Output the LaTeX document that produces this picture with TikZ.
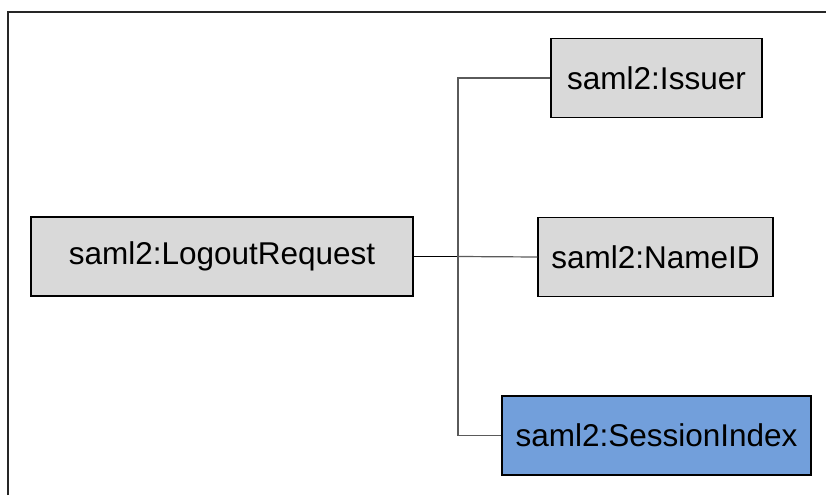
\documentclass[tikz,border=0pt]{standalone}
\usepackage{fontspec}
\setmainfont{Liberation Sans}
\definecolor{boxgray}{RGB}{217,217,217}
\definecolor{boxblue}{RGB}{114,159,219}
\definecolor{linegray}{RGB}{90,90,90}
\tikzset{
  elem/.style={draw=black,line width=1.2pt,fill=boxgray,inner sep=0pt,
    minimum height=79pt,font=\fontsize{31.5}{36}\selectfont},
  elemsel/.style={elem,fill=boxblue},
  link/.style={draw=linegray,line width=1.2pt},
  linkmain/.style={draw=black,line width=1.4pt},
}
\begin{document}
\begin{tikzpicture}[x=1pt,y=-1pt]
 \useasboundingbox (0,0) rectangle (826,495);
 \draw[line width=1.5pt,black!85](8,495)--(8,12)--(826,12);
 % elements
 \node[elem,minimum width=382pt] (req) at (222,256.5) {saml2:LogoutRequest};
 \node[elem,minimum width=211pt] (issuer) at (656.5,78) {saml2:Issuer};
 \node[elem,minimum width=235pt] (nameid) at (655.5,257) {saml2:NameID};
 \node[elemsel,minimum width=309pt] (session) at (656.5,435.5) {saml2:SessionIndex};
 % connectors
 \coordinate (fork) at (458,256.5);
 \draw[linkmain](req.east)--(fork);
 \draw[link](fork)--(nameid.west);
 \draw[link](issuer.west)-|(fork)|-(session.west);
\end{tikzpicture}
\end{document}
